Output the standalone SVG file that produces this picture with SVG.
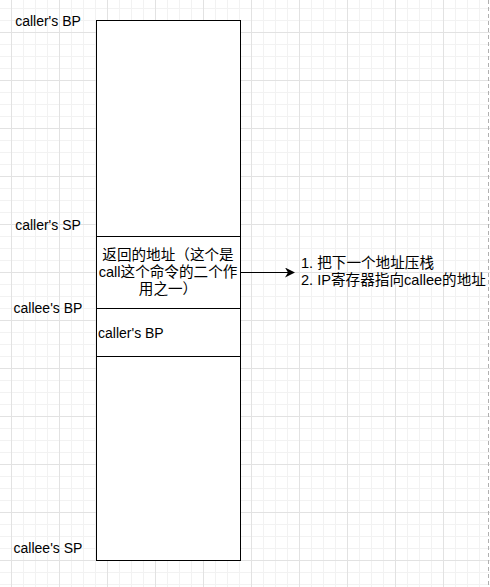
<svg xmlns="http://www.w3.org/2000/svg" width="490" height="587" viewBox="0 0 490 587">
<defs>
<pattern id="minor" x="11" y="8" width="12" height="12" patternUnits="userSpaceOnUse">
<path d="M0 0.5H12M0.5 0V12" fill="none" stroke="#f2f2f2" stroke-width="1"/>
</pattern>
<pattern id="major" x="11" y="32" width="48" height="48" patternUnits="userSpaceOnUse">
<path d="M0 0.5H48M0.5 0V48" fill="none" stroke="#e2e2e2" stroke-width="1"/>
</pattern>
<marker id="arrow" viewBox="0 0 10 10" refX="9" refY="5" markerWidth="10" markerHeight="10" markerUnits="userSpaceOnUse" orient="auto">
<path d="M0 0L10 5L0 10L3 5Z" fill="#000"/>
</marker>
</defs>
<style>
text{font-family:"Liberation Sans","Noto Sans CJK SC",sans-serif;font-size:14px;fill:#000}
.cjk{font-size:14.6px}
.lbl{text-anchor:middle}
.cell{fill:#fff;stroke:#000;stroke-width:1}
</style>
<rect width="490" height="587" fill="#fff"/>
<rect width="490" height="587" fill="url(#minor)"/>
<rect width="490" height="587" fill="url(#major)"/>
<line x1="488.5" y1="0" x2="488.5" y2="587" stroke="#b0b0b0" stroke-dasharray="4 3"/>
<g id="stack">
<rect class="cell" x="96.5" y="20.5" width="144" height="540"/>
</g>
<g id="cell-return">
<rect class="cell" x="96.5" y="236.5" width="144" height="72"/>
<text class="lbl cjk" x="168" y="260">返回的地址（这个是</text>
<text class="lbl cjk" x="168" y="277">call这个命令的二个作</text>
<text class="lbl cjk" x="168" y="294">用之一）</text>
</g>
<g id="cell-callerbp">
<rect class="cell" x="96.5" y="308.5" width="144" height="48"/>
<text x="98" y="338">caller's BP</text>
</g>
<g id="label-caller-bp"><text class="lbl" x="48" y="26">caller's BP</text></g>
<g id="label-caller-sp"><text class="lbl" x="48" y="230">caller's SP</text></g>
<g id="label-callee-bp"><text class="lbl" x="48" y="313">callee's BP</text></g>
<g id="label-callee-sp"><text class="lbl" x="48" y="553">callee's SP</text></g>
<g id="note">
<text class="cjk" x="301" y="268">1. 把下一个地址压栈</text>
<text class="cjk" x="301" y="285">2. IP寄存器指向callee的地址</text>
</g>
<g id="connectors">
<line x1="241" y1="272.5" x2="294" y2="272.5" stroke="#000" stroke-width="1" marker-end="url(#arrow)"/>
</g>
</svg>
